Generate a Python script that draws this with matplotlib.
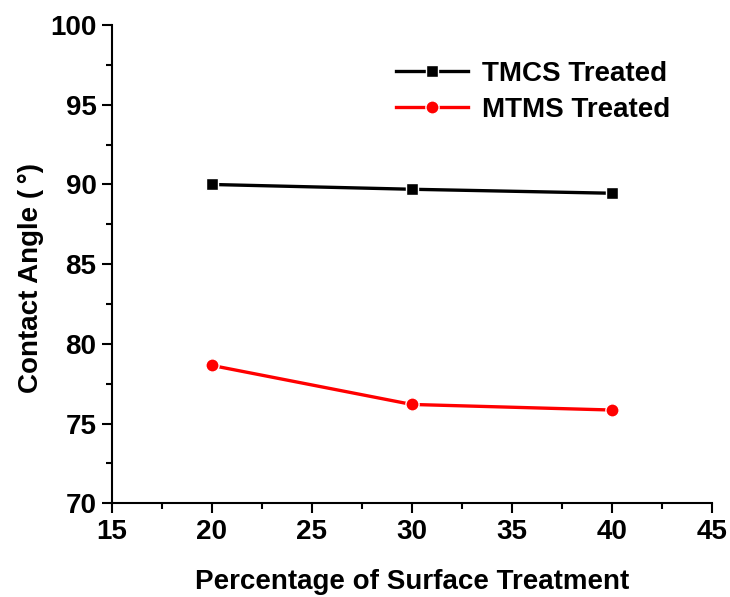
import matplotlib
matplotlib.use("Agg")
import matplotlib.pyplot as plt
from matplotlib.ticker import MultipleLocator

plt.rcParams['font.family'] = ['Liberation Sans', 'DejaVu Sans']
plt.rcParams['font.weight'] = 'bold'

x = [20, 30, 40]
tmcs = [90.0, 89.7, 89.45]
mtms = [78.65, 76.2, 75.85]

fig = plt.figure(figsize=(7.3, 5.97), dpi=100)
ax = fig.add_axes([0.153, 0.157, 0.822, 0.801])

ax.plot(x, tmcs, color='black', lw=2.4, marker='s', ms=8, mec='white', mew=1.0,
        mfc='black', label='TMCS Treated')
ax.plot(x, mtms, color='red', lw=2.4, marker='o', ms=9.5, mec='white', mew=1.0,
        mfc='red', label='MTMS Treated')

ax.set_xlim(15, 45)
ax.set_ylim(70, 100)
ax.xaxis.set_major_locator(MultipleLocator(5))
ax.xaxis.set_minor_locator(MultipleLocator(2.5))
ax.yaxis.set_major_locator(MultipleLocator(5))
ax.yaxis.set_minor_locator(MultipleLocator(2.5))

for s in ['top', 'right']:
    ax.spines[s].set_visible(False)
for s in ['left', 'bottom']:
    ax.spines[s].set_linewidth(1.5)

ax.tick_params(which='major', direction='out', length=7, width=1.5, labelsize=20, pad=4)
ax.tick_params(which='minor', direction='out', length=4, width=1.5)
for lab in ax.get_xticklabels() + ax.get_yticklabels():
    lab.set_fontweight('bold')

ax.set_xlabel('Percentage of Surface Treatment', fontsize=20, fontweight='bold')
ax.set_ylabel('Contact Angle (\u2009°)', fontsize=20, fontweight='bold')
ax.xaxis.set_label_coords(0.5, -0.165)
ax.yaxis.set_label_coords(-0.135, 0.471)
ax.xaxis.label.set_va('center')
ax.yaxis.label.set_va('center')

leg = ax.legend(loc='upper right', frameon=False, fontsize=20, handlelength=2.6,
                handletextpad=0.5, borderaxespad=0.0, labelspacing=0.35,
                bbox_to_anchor=(0.95, 0.948))

fig.savefig('out.png', dpi=100)
